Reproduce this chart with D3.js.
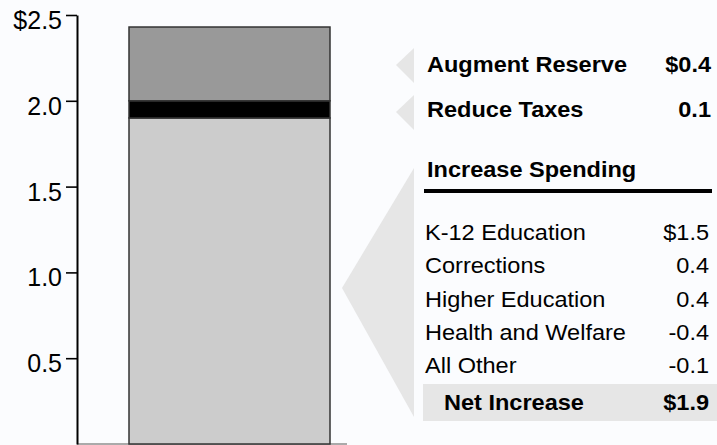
<!DOCTYPE html>
<html>
<head>
<meta charset="utf-8">
<script src="https://cdn.jsdelivr.net/npm/d3@7"></script>
<style>
  html, body { margin: 0; padding: 0; background: #fbfcfe; }
  svg { display: block; font-family: "Liberation Sans", Arial, sans-serif; }
</style>
</head>
<body>
<div id="chart"></div>
<script>
// stacked bar segments, bottom to top
const segments = ["Net Increase", "Reduce Taxes", "Augment Reserve"];
const segmentValues = [1.9, 0.1, 0.43];
const segmentColors = ["#cccccc", "#000000", "#999999"];

const yTicks = [0.5, 1.0, 1.5, 2.0, 2.5];

// right hand table
const topItems = ["Augment Reserve", "Reduce Taxes"];
const topValues = ["$0.4", "0.1"];
const spendHeader = "Increase Spending";
const spendItems = ["K-12 Education", "Corrections", "Higher Education", "Health and Welfare", "All Other"];
const spendValues = ["$1.5", "0.4", "0.4", "-0.4", "-0.1"];
const netLabel = "Net Increase";
const netValue = "$1.9";

const w = 717, h = 445;

const svg = d3.select("#chart")
  .append("svg")
  .attr("width", w)
  .attr("height", h);

const y = d3.scaleLinear()
  .domain([0, 2.5])
  .range([444, 15]);

const x = d3.scaleBand()
  .domain(["bar"])
  .range([129, 330])
  .padding(0);

// base line
svg.append("line")
  .attr("x1", 77).attr("x2", 347)
  .attr("y1", 444).attr("y2", 444)
  .attr("stroke", "#aaaaaa")
  .attr("stroke-width", 2);

// stacked bar
let cum = 0;
const stacked = segmentValues.map((v, i) => {
  const d = { name: segments[i], y0: cum, y1: cum + v, color: segmentColors[i] };
  cum += v;
  return d;
});

svg.selectAll("rect.seg")
  .data(stacked)
  .enter()
  .append("rect")
  .attr("class", "seg")
  .attr("x", x("bar"))
  .attr("width", x.bandwidth())
  .attr("y", d => y(d.y1))
  .attr("height", d => y(d.y0) - y(d.y1))
  .attr("fill", d => d.color)
  .attr("stroke", "#333")
  .attr("stroke-width", 1.5);

// y axis
const yAxis = d3.axisLeft(y)
  .tickValues(yTicks)
  .tickSize(11)
  .tickSizeOuter(0)
  .tickPadding(4)
  .tickFormat(d => d === 2.5 ? "$2.5" : d3.format(".1f")(d));

const gy = svg.append("g")
  .attr("transform", "translate(77,0)")
  .call(yAxis);
gy.select(".domain").attr("stroke", "#000").attr("stroke-width", 2);
gy.selectAll(".tick line").attr("stroke", "#000").attr("stroke-width", 1.6);
gy.selectAll(".tick text")
  .attr("fill", "#000")
  .attr("font-size", "25px")
  .attr("font-family", "Liberation Sans, Arial, sans-serif")
  .attr("dy", "0.54em");

// grey pointers
const pointerFill = "#e6e6e6";
const tri = [[396, 65, 48, 83], [396, 112, 95, 130]];
svg.selectAll("path.ptr")
  .data(tri)
  .enter()
  .append("path")
  .attr("class", "ptr")
  .attr("d", d => `M${d[0]},${d[1]}L414,${d[2]}L414,${d[3]}Z`)
  .attr("fill", pointerFill);

svg.append("path")
  .attr("d", "M342,288L414,168L414,417Z")
  .attr("fill", pointerFill);

// table text, slightly widened to match the original lettering
const fs = "22px";
const sx = 1.07;
const tx = 427, vx = 711;

function label(px, py, str, anchor, bold) {
  svg.append("text")
    .attr("transform", `translate(${px},${py}) scale(${sx},1)`)
    .attr("text-anchor", anchor)
    .attr("font-size", fs)
    .attr("font-weight", bold ? "bold" : "normal")
    .attr("fill", "#000")
    .text(str);
}

const topY = [72, 117];
topItems.forEach((d, i) => {
  label(tx, topY[i], d, "start", true);
  label(vx, topY[i], topValues[i], "end", true);
});

label(tx, 177, spendHeader, "start", true);

svg.append("rect")
  .attr("x", 424).attr("y", 189)
  .attr("width", 288).attr("height", 4)
  .attr("fill", "#000");

const rowY = d3.scaleLinear().domain([0, 1]).range([240, 273.3]);

spendItems.forEach((d, i) => {
  label(425, rowY(i), d, "start", false);
  label(vx - 2, rowY(i), spendValues[i], "end", false);
});

svg.append("rect")
  .attr("x", 423).attr("y", 384)
  .attr("width", w - 423).attr("height", 37)
  .attr("fill", "#e6e6e6");

label(444, 410, netLabel, "start", true);
label(vx - 2, 410, netValue, "end", true);
</script>
</body>
</html>
